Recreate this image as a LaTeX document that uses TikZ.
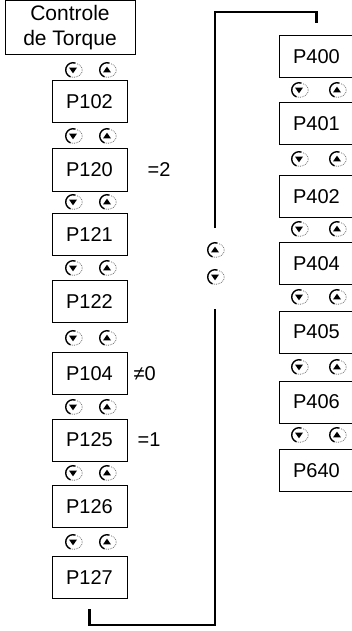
\documentclass[tikz,border=0pt]{standalone}
\usepackage{fontspec}
\setmainfont{Liberation Sans}
\usetikzlibrary{positioning}
\tikzset{
    param/.style={draw, line width=1pt, minimum width=75pt, minimum height=42pt,
        inner sep=0pt, font=\fontsize{20}{25}\selectfont},
    cond/.style={inner sep=0pt, font=\fontsize{20}{25}\selectfont},
    loopline/.style={line width=2.2pt},
    keyup/.pic={
        \draw[line width=1.4pt] (70:7.3pt) arc[start angle=70, end angle=250, radius=7.3pt];
        \draw[densely dotted, line width=0.8pt, black!55]
            (250:7.3pt) arc[start angle=-110, end angle=70, x radius=8.8pt, y radius=7.1pt];
        \fill (-4pt,-2.4pt) -- (4pt,-2.4pt) -- (0,3.3pt) -- cycle;
    },
    keydown/.pic={
        \draw[line width=1.4pt] (70:7.3pt) arc[start angle=70, end angle=250, radius=7.3pt];
        \draw[densely dotted, line width=0.8pt, black!55]
            (250:7.3pt) arc[start angle=-110, end angle=70, x radius=8.8pt, y radius=7.1pt];
        \fill (-4pt,2.4pt) -- (4pt,2.4pt) -- (0,-3.3pt) -- cycle;
    }
}
\begin{document}
\begin{tikzpicture}[x=1pt, y=-1pt]
    \useasboundingbox (0,0) rectangle (352,631);
    % Left column
    \node[param, minimum width=130pt, minimum height=54pt, align=center,
        font=\fontsize{21}{25}\selectfont] (title) at (70,28) {Controle\\de Torque};
    \node[param] (p102) at (89.5,102) {P102};
    \node[param] (p120) at (89.5,170) {P120};
    \node[param] (p121) at (89.5,234.5) {P121};
    \node[param] (p122) at (89.5,301.5) {P122};
    \node[param] (p104) at (89.5,373.5) {P104};
    \node[param] (p125) at (89.5,440) {P125};
    \node[param] (p126) at (89.5,506.5) {P126};
    \node[param] (p127) at (89.5,577.5) {P127};
    % Conditions
    \node[cond, right=20pt of p120] (c120) {=2};
    \node[cond, right=6pt of p104] (c104) {≠0};
    \node[cond, right=10pt of p125] (c125) {=1};
    % Keys between the left boxes
    \foreach \ky in {70,136,202,268,338,407,473,542} {
        \pic at (73,\ky) {keydown};
        \pic at (107,\ky) {keyup};
    }
    % Right column
    \node[param] (p400) at (316.5,57) {P400};
    \node[param] (p401) at (316.5,123.5) {P401};
    \node[param] (p402) at (316.5,196.5) {P402};
    \node[param] (p404) at (316.5,263.5) {P404};
    \node[param] (p405) at (316.5,332) {P405};
    \node[param] (p406) at (316.5,402) {P406};
    \node[param] (p640) at (316.5,470.5) {P640};
    % Keys between the right boxes
    \foreach \ky in {90,159,229,297,367,435} {
        \pic at (299,\ky) {keydown};
        \pic at (337,\ky) {keyup};
    }
    % Loop from P127 back to P400
    \coordinate (loopbot) at (215,625);
    \coordinate (loopa) at (215,309);
    \coordinate (loopb) at (215,228);
    \coordinate (looptop) at (215,12);
    \draw[loopline] ([yshift=-10pt]p127.south) |- (loopbot) -- (loopa);
    \draw[loopline] (loopb) -- (looptop) -| ([yshift=12pt]p400.north);
    \pic at (215,250) {keyup};
    \pic at (215,277) {keydown};
\end{tikzpicture}
\end{document}
